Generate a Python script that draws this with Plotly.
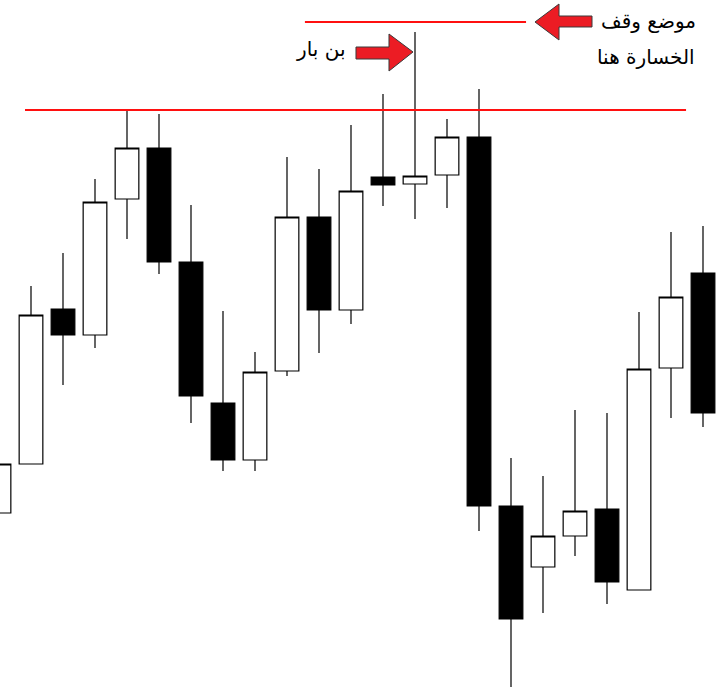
import plotly.graph_objects as go

# Candle index and OHLC prices
idx = list(range(23))
opens  = [177, 226, 381, 355, 491, 542, 428, 287, 230, 319, 473, 380, 513, 506, 515, 553, 184, 123, 154, 181, 100, 322, 417]
highs  = [250, 404, 437, 511, 581, 576, 485, 379, 338, 533, 521, 565, 596, 658, 571, 601, 232, 214, 280, 277, 378, 458, 464]
lows   = [160, 226, 305, 342, 451, 416, 267, 219, 219, 314, 337, 366, 484, 471, 482, 159, 3, 77, 134, 86, 100, 272, 263]
closes = [226, 375, 355, 488, 542, 428, 294, 230, 318, 473, 380, 499, 505, 514, 553, 184, 71, 154, 179, 108, 321, 393, 277]

# Horizontal levels
level_main = 580
level_main_x = [0.8125, 21.47]
level_stop = 668
level_stop_x = [9.56, 16.47]

W, H = 728, 690

def px(x):
    return x / W

def py(y):
    return 1 - y / H

fig = go.Figure()
fig.add_trace(go.Candlestick(
    x=idx, open=opens, high=highs, low=lows, close=closes,
    increasing=dict(fillcolor="white", line=dict(color="black", width=1.2)),
    decreasing=dict(fillcolor="black", line=dict(color="black", width=1.2)),
    whiskerwidth=0, showlegend=False, hoverinfo="skip",
))

shapes = []
shapes.append(dict(type="line", xref="x", yref="y", x0=level_main_x[0], x1=level_main_x[1],
                   y0=level_main, y1=level_main, line=dict(color="#ff1010", width=2)))
shapes.append(dict(type="line", xref="x", yref="y", x0=level_stop_x[0], x1=level_stop_x[1],
                   y0=level_stop, y1=level_stop, line=dict(color="#ff1010", width=2)))

def arrow_path(pts):
    s = "M " + " L ".join(f"{px(a):.5f},{py(b):.5f}" for a, b in pts) + " Z"
    return s

# left-pointing arrow (stop loss)
left_arrow = [(535, 22), (559, 4), (559, 16), (592, 16), (592, 27), (559, 27), (559, 40)]
# right-pointing arrow (pin bar)
right_arrow = [(413, 52), (389, 34), (389, 47), (356, 47), (356, 59), (389, 59), (389, 71)]
for pts in (left_arrow, right_arrow):
    shapes.append(dict(type="path", xref="paper", yref="paper", path=arrow_path(pts),
                       fillcolor="#ec1c24", line=dict(color="#3a3a3a", width=1)))

font = dict(family="DejaVu Sans", size=20, color="black")
annotations = [
    dict(text="موضع وقف", x=px(648), y=py(21), xref="paper", yref="paper", showarrow=False,
         font=font, xanchor="center", yanchor="middle"),
    dict(text="الخسارة هنا", x=px(646), y=py(57), xref="paper", yref="paper", showarrow=False,
         font=font, xanchor="center", yanchor="middle"),
    dict(text="بن بار", x=px(320), y=py(49), xref="paper", yref="paper", showarrow=False,
         font=font, xanchor="center", yanchor="middle"),
]

fig.update_layout(
    width=W, height=H, margin=dict(l=0, r=0, t=0, b=0),
    paper_bgcolor="white", plot_bgcolor="white",
    xaxis=dict(visible=False, range=[0.03125, 22.78125], rangeslider=dict(visible=False), fixedrange=True),
    yaxis=dict(visible=False, range=[0, 690], fixedrange=True),
    boxgap=0.26, boxgroupgap=0,
    shapes=shapes, annotations=annotations,
)

fig.write_html("out.html", config={"displayModeBar": False},
               post_script="document.body.style.margin='0';")
